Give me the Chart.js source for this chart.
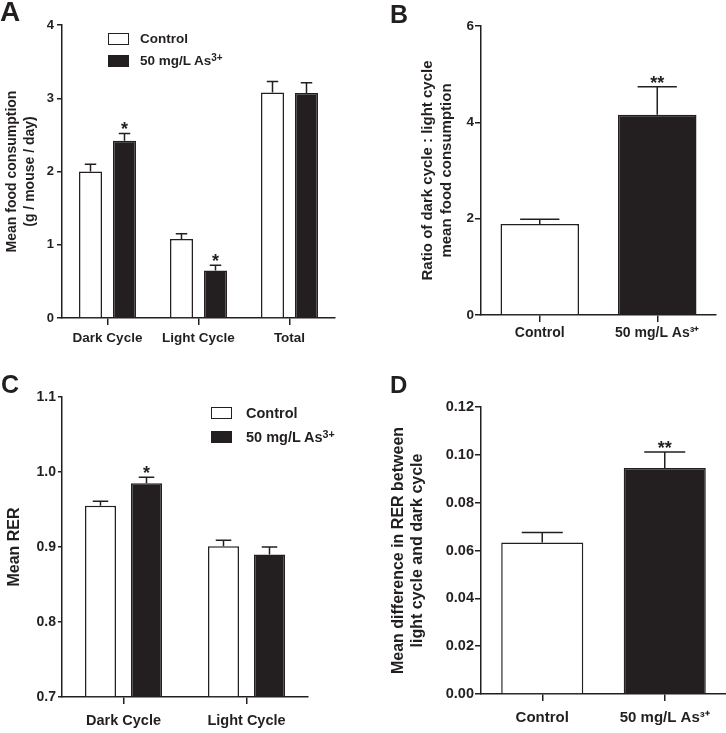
<!DOCTYPE html>
<html>
<head>
<meta charset="utf-8">
<script src="https://cdn.jsdelivr.net/npm/chart.js@4/dist/chart.umd.min.js"></script>
<style>
  html, body { margin: 0; padding: 0; background: #fff; }
  body { width: 726px; height: 733px; position: relative; overflow: hidden;
         font-family: "Liberation Sans", Arial, Helvetica, sans-serif; color: #231f20; }
  .panel { position: absolute; }
  .letter { position: absolute; font-weight: bold; line-height: 1; }
  .leg { position: absolute; font-weight: bold; white-space: nowrap; }
  .leg .box { position: absolute; border: 1.5px solid #231f20; box-sizing: border-box; }
  .leg .txt { position: absolute; line-height: 1; }
  sup { font-size: 0.74em; vertical-align: 0; position: relative; top: -0.42em; }
</style>
</head>
<body>
<div class="panel" style="left:0;top:0"><canvas id="cA" width="363" height="360"></canvas></div>
<div class="panel" style="left:363px;top:0"><canvas id="cB" width="363" height="360"></canvas></div>
<div class="panel" style="left:0;top:360px"><canvas id="cC" width="363" height="373"></canvas></div>
<div class="panel" style="left:363px;top:360px"><canvas id="cD" width="363" height="373"></canvas></div>

<div class="letter" style="left:0;top:-2px;font-size:28px">A</div>
<div class="letter" style="left:390px;top:2px;font-size:25px">B</div>
<div class="letter" style="left:1px;top:372px;font-size:25px">C</div>
<div class="letter" style="left:390px;top:373px;font-size:24px">D</div>

<!-- legend panel A -->
<div class="leg" style="left:108px;top:33px;font-size:13.5px">
  <div class="box" style="left:0;top:0;width:21px;height:12px;background:#fff"></div>
  <div class="txt" style="left:32px;top:-1px">Control</div>
  <div class="box" style="left:0;top:22px;width:21px;height:12px;background:#231f20"></div>
  <div class="txt" style="left:32px;top:21px">50 mg/L As<sup>3+</sup></div>
</div>
<!-- legend panel C -->
<div class="leg" style="left:211px;top:407px;font-size:14.5px">
  <div class="box" style="left:0;top:0;width:21px;height:12px;background:#fff"></div>
  <div class="txt" style="left:35px;top:-1px">Control</div>
  <div class="box" style="left:0;top:24px;width:21px;height:12px;background:#231f20"></div>
  <div class="txt" style="left:35px;top:23px">50 mg/L As<sup>3+</sup></div>
</div>

<script>
// ---------------- data ----------------
const foodCategories = ['Dark Cycle', 'Light Cycle', 'Total'];
const foodControl      = [2.00, 1.08, 3.08];
const foodControlErr   = [0.10, 0.07, 0.15];
const foodArsenic      = [2.42, 0.65, 3.07];
const foodArsenicErr   = [0.10, 0.07, 0.14];
const foodControlSig   = ['', '', ''];
const foodArsenicSig   = ['*', '*', ''];
const foodTicks        = [0, 1, 2, 3, 4];

const ratioGroups = ['Control', '50 mg/L As\u00B3\u207A'];
const ratioValues = [1.89, 4.16];
const ratioErr    = [0.10, 0.58];
const ratioSig    = ['', '**'];
const ratioTicks  = [0, 2, 4, 6];

const rerCategories   = ['Dark Cycle', 'Light Cycle'];
const rerControl      = [0.955, 0.901];
const rerControlErr   = [0.006, 0.008];
const rerArsenic      = [0.985, 0.890];
const rerArsenicErr   = [0.008, 0.010];
const rerControlSig   = ['', ''];
const rerArsenicSig   = ['*', ''];
const rerTicks        = [0.7, 0.8, 0.9, 1.0, 1.1];

const diffGroups = ['Control', '50 mg/L As\u00B3\u207A'];
const diffValues = [0.0633, 0.0945];
const diffErr    = [0.0042, 0.0067];
const diffSig    = ['', '**'];
const diffTicks  = [0.00, 0.02, 0.04, 0.06, 0.08, 0.10, 0.12];

// ---------------- styling ----------------
const INK = '#231f20';
const FONT = '"Liberation Sans", Arial, Helvetica, sans-serif';
Chart.defaults.font.family = FONT;
Chart.defaults.font.weight = 'bold';
Chart.defaults.color = INK;
Chart.defaults.animation = false;

const errorBarPlugin = {
  id: 'errorBars',
  afterDatasetsDraw(chart) {
    const ctx = chart.ctx;
    const yScale = chart.scales.y;
    chart.data.datasets.forEach((ds, di) => {
      const meta = chart.getDatasetMeta(di);
      meta.data.forEach((bar, i) => {
        const v = ds.data[i];
        const e = ds.errors[i];
        const yTop = yScale.getPixelForValue(v + e);
        const yVal = yScale.getPixelForValue(v);
        const half = bar.width / 4;
        ctx.save();
        ctx.strokeStyle = INK;
        ctx.lineWidth = 1.5;
        ctx.beginPath();
        ctx.moveTo(bar.x, yVal);
        ctx.lineTo(bar.x, yTop);
        ctx.moveTo(bar.x - half, yTop);
        ctx.lineTo(bar.x + half, yTop);
        ctx.stroke();
        if (ds.sig && ds.sig[i]) {
          ctx.fillStyle = INK;
          ctx.font = 'bold 18px ' + FONT;
          ctx.textAlign = 'center';
          ctx.textBaseline = 'alphabetic';
          ctx.fillText(ds.sig[i], bar.x, yTop + 2);
        }
        ctx.restore();
      });
    });
  }
};

function makeChart(id, cfg) {
  return new Chart(document.getElementById(id), {
    type: 'bar',
    data: { labels: cfg.labels, datasets: cfg.datasets },
    plugins: [errorBarPlugin],
    options: {
      responsive: false,
      maintainAspectRatio: false,
      layout: { padding: cfg.pad },
      plugins: { legend: { display: false }, tooltip: { enabled: false } },
      scales: {
        x: {
          offset: true,
          afterFit: s => { s.height = cfg.xHeight; },
          grid: { display: true, drawOnChartArea: false, drawTicks: true, offset: false,
                  tickLength: cfg.xTickLen, color: INK, lineWidth: 1.5 },
          border: { display: true, color: INK, width: 1.5 },
          ticks: { font: { size: cfg.xTickSize, weight: 'bold' }, color: INK,
                   padding: cfg.xTickPad, maxRotation: 0, autoSkip: false }
        },
        y: {
          min: cfg.ticks[0],
          max: cfg.ticks[cfg.ticks.length - 1],
          afterFit: s => { s.width = cfg.yWidth; },
          afterBuildTicks: s => { s.ticks = cfg.ticks.map(v => ({ value: v })); },
          grid: { display: true, drawOnChartArea: false, drawTicks: true,
                  tickLength: cfg.yTickLen, color: INK, lineWidth: 1.5 },
          border: { display: true, color: INK, width: 1.5 },
          ticks: { font: { size: cfg.yTickSize, weight: 'bold' }, color: INK,
                   padding: cfg.yTickPad,
                   callback: v => Number(v).toFixed(cfg.decimals) },
          title: { display: true, text: cfg.title, color: INK,
                   font: { size: cfg.titleSize, weight: 'bold', lineHeight: cfg.titleLH },
                   padding: { top: cfg.titlePad, bottom: 0 } }
        }
      }
    }
  });
}

// Panel A
makeChart('cA', {
  labels: foodCategories,
  datasets: [
    { data: foodControl, errors: foodControlErr, sig: foodControlSig,
      backgroundColor: '#ffffff', borderColor: INK, borderWidth: 1.5,
      categoryPercentage: 0.747, barPercentage: 0.676 },
    { data: foodArsenic, errors: foodArsenicErr, sig: foodArsenicSig,
      backgroundColor: INK, borderColor: INK, borderWidth: 1.5,
      categoryPercentage: 0.747, barPercentage: 0.676 }
  ],
  ticks: foodTicks, decimals: 0,
  title: ['Mean food consumption', '(g / mouse / day)'], titleSize: 14, titleLH: 1.3, titlePad: 3,
  yTickSize: 13, yTickLen: 5, yTickPad: 3,
  xTickSize: 13.5, xTickLen: 7, xTickPad: 5,
  pad: { left: 0, top: 25, right: 28, bottom: 0 }, yWidth: 62, xHeight: 42
});

// Panel B
makeChart('cB', {
  labels: ratioGroups,
  datasets: [
    { data: ratioValues, errors: ratioErr, sig: ratioSig,
      backgroundColor: ['#ffffff', INK], borderColor: INK, borderWidth: 1.5,
      categoryPercentage: 1, barPercentage: 0.668 }
  ],
  ticks: ratioTicks, decimals: 0,
  title: ['Ratio of dark cycle : light cycle', 'mean food consumption'], titleSize: 15, titleLH: 1.27, titlePad: 55,
  yTickSize: 13.5, yTickLen: 6, yTickPad: 1,
  xTickSize: 14, xTickLen: 7, xTickPad: 3,
  pad: { left: 0, top: 26, right: 10, bottom: 0 }, yWidth: 118, xHeight: 45
});

// Panel C
makeChart('cC', {
  labels: rerCategories,
  datasets: [
    { data: rerControl, errors: rerControlErr, sig: rerControlSig, base: 0.7,
      backgroundColor: '#ffffff', borderColor: INK, borderWidth: 1.5,
      categoryPercentage: 0.748, barPercentage: 0.674 },
    { data: rerArsenic, errors: rerArsenicErr, sig: rerArsenicSig, base: 0.7,
      backgroundColor: INK, borderColor: INK, borderWidth: 1.5,
      categoryPercentage: 0.748, barPercentage: 0.674 }
  ],
  ticks: rerTicks, decimals: 1,
  title: 'Mean RER', titleSize: 16, titleLH: 1.2, titlePad: 5,
  yTickSize: 14, yTickLen: 4, yTickPad: 2,
  xTickSize: 14.5, xTickLen: 7, xTickPad: 8,
  pad: { left: 0, top: 37, right: 55, bottom: 0 }, yWidth: 62, xHeight: 36
});

// Panel D
makeChart('cD', {
  labels: diffGroups,
  datasets: [
    { data: diffValues, errors: diffErr, sig: diffSig,
      backgroundColor: ['#ffffff', INK], borderColor: INK, borderWidth: 1.5,
      categoryPercentage: 1, barPercentage: 0.67 }
  ],
  ticks: diffTicks, decimals: 2,
  title: ['Mean difference in RER between', 'light cycle and dark cycle'], titleSize: 16, titleLH: 1.2, titlePad: 26,
  yTickSize: 14.5, yTickLen: 6, yTickPad: 1,
  xTickSize: 15, xTickLen: 7, xTickPad: 8,
  pad: { left: 0, top: 47, right: 0, bottom: 0 }, yWidth: 118, xHeight: 39
});
</script>
</body>
</html>
